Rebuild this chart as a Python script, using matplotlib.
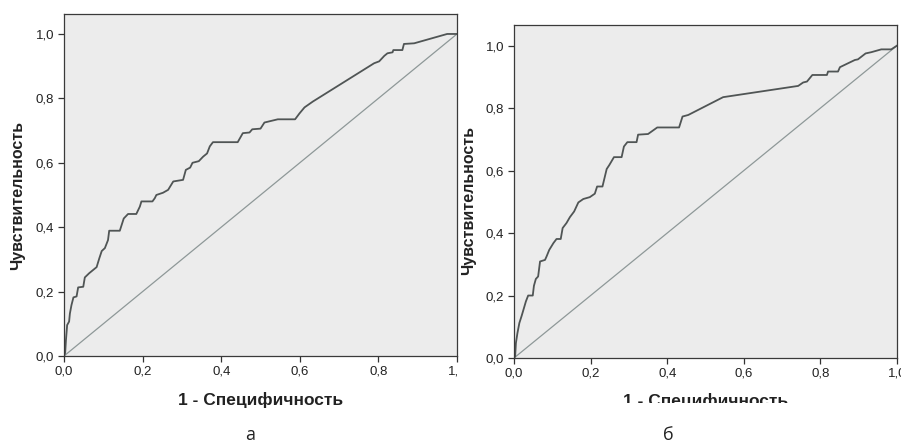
import numpy as np
import matplotlib
matplotlib.use('Agg')
import matplotlib.pyplot as plt
from matplotlib.transforms import Bbox, TransformedBbox

# ROC-кривые (1 - специфичность, чувствительность)
fpr_a = [0.0, 0.003, 0.005, 0.008, 0.013, 0.015, 0.019, 0.024, 0.032, 0.036, 0.049, 0.053,
         0.064, 0.083, 0.09, 0.096, 0.104, 0.112, 0.115, 0.142, 0.152, 0.163, 0.184, 0.193,
         0.197, 0.225, 0.231, 0.235, 0.252, 0.265, 0.278, 0.303, 0.31, 0.321, 0.327, 0.343,
         0.354, 0.364, 0.371, 0.379, 0.442, 0.455, 0.472, 0.479, 0.50, 0.51, 0.544, 0.588,
         0.599, 0.612, 0.633, 0.789, 0.802, 0.815, 0.823, 0.836, 0.838, 0.861, 0.865, 0.891,
         0.975, 1.0]
tpr_a = [0.0, 0.01, 0.05, 0.096, 0.107, 0.132, 0.158, 0.182, 0.185, 0.213, 0.215, 0.244,
         0.257, 0.276, 0.304, 0.326, 0.335, 0.36, 0.389, 0.389, 0.427, 0.441, 0.441, 0.464,
         0.48, 0.48, 0.49, 0.50, 0.507, 0.516, 0.542, 0.547, 0.578, 0.585, 0.60, 0.605,
         0.619, 0.629, 0.651, 0.664, 0.664, 0.692, 0.694, 0.704, 0.706, 0.725, 0.735, 0.735,
         0.753, 0.772, 0.79, 0.909, 0.915, 0.932, 0.94, 0.943, 0.95, 0.95, 0.969, 0.971,
         1.0, 1.0]

fpr_b = [0.0, 0.003, 0.005, 0.009, 0.014, 0.02, 0.026, 0.031, 0.037, 0.049, 0.052, 0.057,
         0.063, 0.068, 0.081, 0.085, 0.092, 0.103, 0.111, 0.122, 0.127, 0.137, 0.146, 0.157,
         0.168, 0.181, 0.198, 0.211, 0.217, 0.231, 0.242, 0.249, 0.261, 0.281, 0.287, 0.296,
         0.32, 0.324, 0.35, 0.374, 0.431, 0.44, 0.455, 0.546, 0.742, 0.755, 0.765, 0.779,
         0.817, 0.82, 0.846, 0.851, 0.873, 0.89, 0.898, 0.918, 0.933, 0.959, 0.985, 1.0]
tpr_b = [0.0, 0.005, 0.048, 0.08, 0.112, 0.135, 0.16, 0.181, 0.2, 0.2, 0.231, 0.253,
         0.261, 0.309, 0.314, 0.325, 0.346, 0.368, 0.381, 0.381, 0.416, 0.432, 0.451, 0.469,
         0.498, 0.509, 0.515, 0.526, 0.549, 0.549, 0.605, 0.618, 0.643, 0.643, 0.677, 0.691,
         0.691, 0.715, 0.717, 0.738, 0.738, 0.773, 0.778, 0.835, 0.871, 0.882, 0.885, 0.906,
         0.906, 0.917, 0.917, 0.931, 0.944, 0.954, 0.956, 0.975, 0.979, 0.988, 0.988, 1.0]

ticks = [0.0, 0.2, 0.4, 0.6, 0.8, 1.0]
tick_labels = ['0,0', '0,2', '0,4', '0,6', '0,8', '1,0']
xlabel = '1 - Специфичность'
ylabel = 'Чувствительность'
captions = ['а', 'б']

plt.rcParams['font.family'] = ['Liberation Sans', 'DejaVu Sans']

W, H = 901, 444
fig = plt.figure(figsize=(W / 100, H / 100), dpi=100)

# позиции осей в пикселях: (лево, верх, право, низ)
boxes = [(64, 14, 457, 356), (514, 25, 897, 358)]
ytops = [1.062, 1.066]
ylab_y = [0.468, 0.474]
data = [(fpr_a, tpr_a), (fpr_b, tpr_b)]
cap_x = [250, 668]

for i, (l, t, r, b) in enumerate(boxes):
    ax = fig.add_axes([l / W, (H - b) / H, (r - l) / W, (b - t) / H])
    ax.set_facecolor('#ececec')
    fx, fy = data[i]
    ax.plot([0, 1], [0, 1], color='#8e9898', lw=0.9)
    ax.plot(fx, fy, color='#505555', lw=1.3)
    ax.set_xlim(0, 1)
    ax.set_ylim(0, ytops[i])
    ax.set_xticks(ticks)
    ax.set_xticklabels(tick_labels)
    ax.set_yticks(ticks)
    ax.set_yticklabels(tick_labels)
    ax.tick_params(direction='out', length=4.5, width=0.9, color='#333333',
                   labelsize=9.5, labelcolor='#222222', pad=2.5)
    for s in ax.spines.values():
        s.set_color('#3a3a3a')
        s.set_linewidth(0.9)
    ax.set_xlabel(xlabel, fontsize=12.5, fontweight='bold', color='#222222')
    ax.set_ylabel(ylabel, fontsize=11.5, fontweight='bold', color='#222222')
    ax.xaxis.set_label_coords(0.5, -0.105)
    ax.yaxis.set_label_coords(-0.098, ylab_y[i])
    if i == 0:
        # правый край левой картинки обрезан
        clip = TransformedBbox(Bbox.from_extents(0, 0, 458 / W, 1), fig.transFigure)
        for lab in ax.get_xticklabels():
            lab.set_clip_box(clip)
            lab.set_clip_on(True)
    else:
        # подпись оси снизу обрезана
        clip = TransformedBbox(Bbox.from_extents(0, (H - 403) / H, 1, 1), fig.transFigure)
        ax.xaxis.label.set_clip_box(clip)
        ax.xaxis.label.set_clip_on(True)
    fig.text(cap_x[i] / W, (H - 440) / H, captions[i], ha='center', va='baseline',
             fontsize=13, family=['Open Sans', 'DejaVu Sans'], color='#222222')

fig.savefig('out.png', dpi=100)
